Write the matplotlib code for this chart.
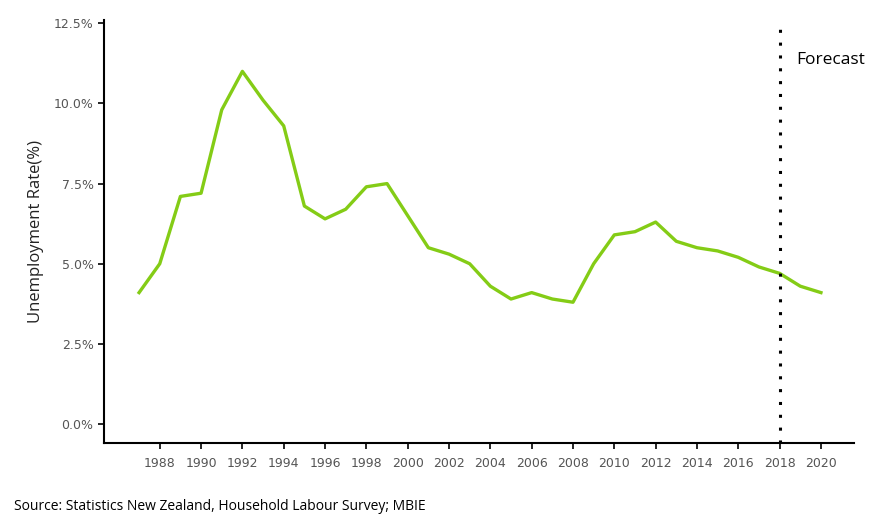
import matplotlib
matplotlib.use('Agg')
import matplotlib.pyplot as plt
from matplotlib.ticker import FuncFormatter

# ── Data ──────────────────────────────────────────────────────────────────────
years = list(range(1987, 2021))
rate  = [4.1, 5.0, 7.1, 7.2, 9.8, 11.0, 10.1, 9.3, 6.8, 6.4,
         6.7, 7.4, 7.5, 6.5, 5.5, 5.3, 5.0, 4.3, 3.9, 4.1,
         3.9, 3.8, 5.0, 5.9, 6.0, 6.3, 5.7, 5.5, 5.4, 5.2,
         4.9, 4.7, 4.3, 4.1]
x_ticks  = list(range(1988, 2021, 2))
y_ticks  = [0.0, 2.5, 5.0, 7.5, 10.0, 12.5]
forecast_year = 2018

LINE_COLOR = '#84cc16'
TICK_COLOR = '#555555'

fig = plt.figure(figsize=(8.87, 5.28), dpi=100)
ax = fig.add_axes([0.1172, 0.161, 0.8456, 0.801])

ax.plot(years, rate, color=LINE_COLOR, linewidth=2.4, solid_joinstyle='round')
ax.axvline(forecast_year, color='black', linestyle=(0, (1, 3.2)),
           linewidth=2.2, ymin=0, ymax=1)

ax.set_xlim(1985.3, 2021.6)
ax.set_ylim(-0.59, 12.6)
ax.set_xticks(x_ticks)
ax.set_yticks(y_ticks)
ax.yaxis.set_major_formatter(FuncFormatter(lambda v, _: f'{v:.1f}%'))

for s in ['top', 'right']:
    ax.spines[s].set_visible(False)
for s in ['left', 'bottom']:
    ax.spines[s].set_linewidth(1.5)
    ax.spines[s].set_color('black')

ax.tick_params(axis='both', direction='out', length=4, width=1.2,
               color='black', labelcolor=TICK_COLOR, labelsize=9)
ax.tick_params(axis='x', pad=6)

ax.set_ylabel('Unemployment Rate(%)', fontsize=12, family='Open Sans',
              color='#222222', labelpad=7)

ax.text(forecast_year + 0.8, 11.35, 'Forecast', fontsize=12.5,
        family='Open Sans', color='black', va='center', ha='left')

fig.text(14 / 887, 1 - 507 / 528, 'Source: Statistics New Zealand, Household Labour Survey; MBIE',
         fontsize=10, family='Open Sans', color='black', va='center', ha='left')

fig.savefig('out.png', dpi=100)
